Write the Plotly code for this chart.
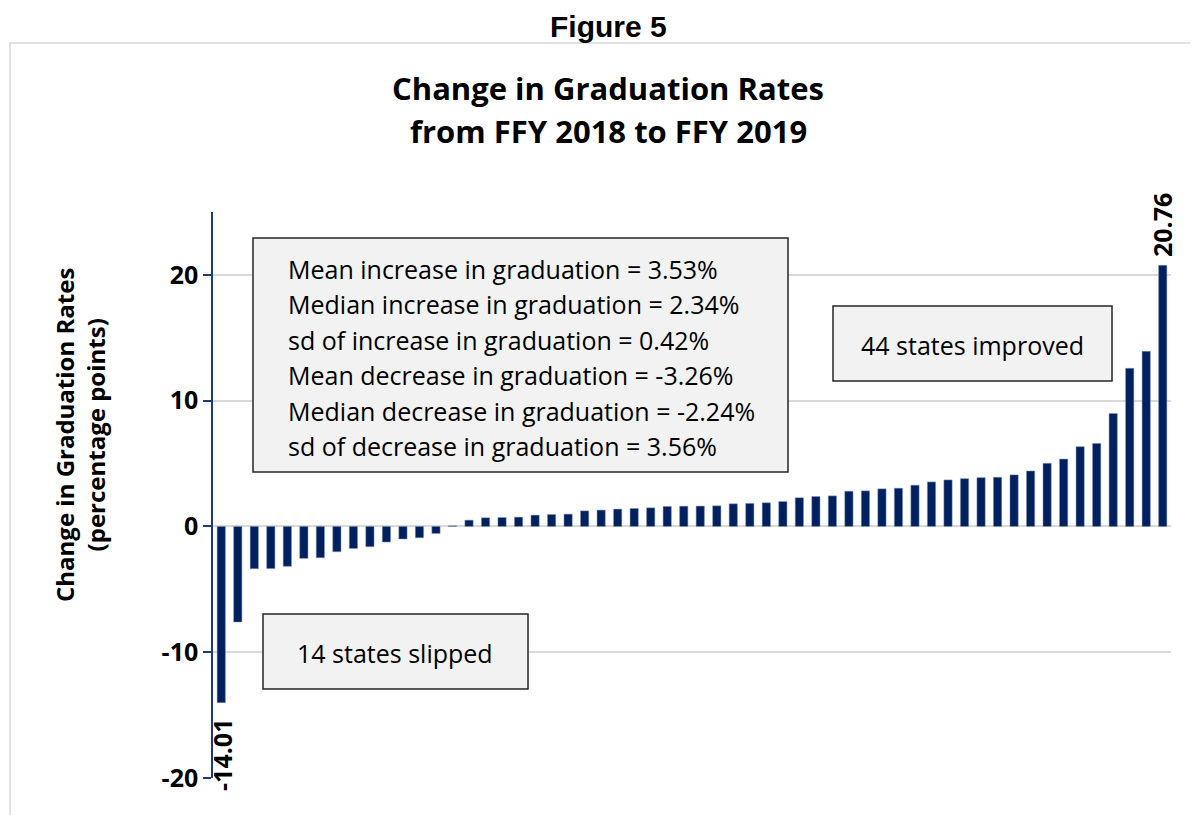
import plotly.graph_objects as go

# ---- data ----
negative_changes = [-14.01, -7.60, -3.36, -3.35, -3.17, -2.54, -2.49, -2.01,
                    -1.75, -1.61, -1.24, -1.00, -0.90, -0.56]
near_zero_change = [0.05]
positive_changes = [0.50, 0.69, 0.71, 0.74, 0.90, 0.95, 0.98, 1.24, 1.30, 1.38,
                    1.43, 1.48, 1.59, 1.61, 1.62, 1.64, 1.80, 1.83, 1.88, 1.98,
                    2.28, 2.38, 2.43, 2.80, 2.83, 2.99, 3.04, 3.28, 3.54, 3.70,
                    3.80, 3.88, 3.91, 4.10, 4.41, 5.02, 5.36, 6.34, 6.60, 8.98,
                    12.57, 13.92, 20.76]
values = negative_changes + near_zero_change + positive_changes
states = [f"S{i+1}" for i in range(len(values))]

y_ticks = [-20, -10, 0, 10, 20]
stats_lines = [
    "Mean increase in graduation = 3.53%",
    "Median increase in graduation = 2.34%",
    "sd of increase in graduation = 0.42%",
    "Mean decrease in graduation = -3.26%",
    "Median decrease in graduation = -2.24%",
    "sd of decrease in graduation = 3.56%",
]
figure_label = "Figure 5"
title_lines = ["Change in Graduation Rates", "from FFY 2018 to FFY 2019"]
y_title = "Change in Graduation Rates<br>(percentage points)"

# ---- layout geometry (reference-screen pixels; page body has an 8px margin) ----
OFF = 8
W, H = 1190, 807
PL, PR, PT, PB = 213 - OFF, 1171 - OFF, 212 - OFF, 778 - OFF
pw, ph = PR - PL, PB - PT

def px(x):
    return (x - OFF - PL) / pw

def py(y):
    return (PB - (y - OFF)) / ph

NAVY = "#002060"
FONT = "Open Sans"

fig = go.Figure()
fig.add_trace(go.Bar(
    x=states, y=values,
    marker=dict(color=NAVY, line=dict(color="#8497b0", width=0.5)),
    hoverinfo="x+y",
))

def note(text, x, y, size, family=FONT, xanchor="center", angle=0):
    return dict(text=text, xref="paper", yref="paper", x=px(x), y=py(y),
                xanchor=xanchor, yanchor="middle", showarrow=False,
                textangle=angle, font=dict(family=family, size=size, color="black"))

annotations = [
    note(f"<b>{figure_label}</b>", 608, 26, 30, family="Liberation Sans"),
    note(f"<b>{title_lines[0]}</b>", 608, 88, 31),
    note(f"<b>{title_lines[1]}</b>", 608, 131, 31),
    note(f"<b>{y_title}</b>", 80, 435, 24, angle=-90),
    note("44 states improved", 972, 345, 25),
    note("14 states slipped", 395, 653, 25),
]
for i, line in enumerate(stats_lines):
    annotations.append(note(line, 286, 269 + 35.4 * i, 25, xanchor="left"))

# data labels on the extreme bars
annotations.append(dict(text=f"<b>{values[0]:.2f}</b>", x=states[0], y=values[0],
                        xref="x", yref="y", showarrow=False, textangle=-90,
                        xanchor="center", yanchor="top", yshift=-14,
                        font=dict(family=FONT, size=25, color="black")))
annotations.append(dict(text=f"<b>{values[-1]:.2f}</b>", x=states[-1], y=values[-1],
                        xref="x", yref="y", showarrow=False, textangle=-90,
                        xanchor="center", yanchor="bottom", yshift=6,
                        font=dict(family=FONT, size=25, color="black")))

def box(x0, x1, y0, y1, **kw):
    return dict(type="rect", xref="paper", yref="paper",
                x0=px(x0), x1=px(x1), y0=py(y1), y1=py(y0), **kw)

shapes = [
    box(10, 1197, 43, 840, line=dict(color="#d9d9d9", width=1.5), layer="below"),
    box(253, 788, 238, 472, fillcolor="#f2f2f2", line=dict(color="#262626", width=1.5)),
    box(833, 1112, 306, 381, fillcolor="#f2f2f2", line=dict(color="#262626", width=1.5)),
    box(263, 528, 614, 689, fillcolor="#f2f2f2", line=dict(color="#262626", width=1.5)),
]

fig.update_layout(
    width=W, height=H,
    margin=dict(l=PL, r=W - PR, t=PT, b=H - PB),
    paper_bgcolor="white", plot_bgcolor="white",
    showlegend=False,
    bargap=0.5,
    annotations=annotations,
    shapes=shapes,
    xaxis=dict(range=[-0.5, len(values) - 0.5], autorange=False,
               showticklabels=False, showgrid=False, zeroline=False,
               showline=False, ticks=""),
    yaxis=dict(range=[-20, 25], tickvals=y_ticks,
               ticktext=[f"<b>{v}</b>" for v in y_ticks],
               showgrid=True, gridcolor="#d9d9d9", gridwidth=1.5,
               zeroline=False, showline=True, linecolor="#1f3a7a", linewidth=1.5,
               ticks="outside", ticklen=8, tickcolor="#1f3a7a", tickwidth=1.5,
               tickfont=dict(family=FONT, size=25, color="black")),
)

fig.write_html("out.html")
